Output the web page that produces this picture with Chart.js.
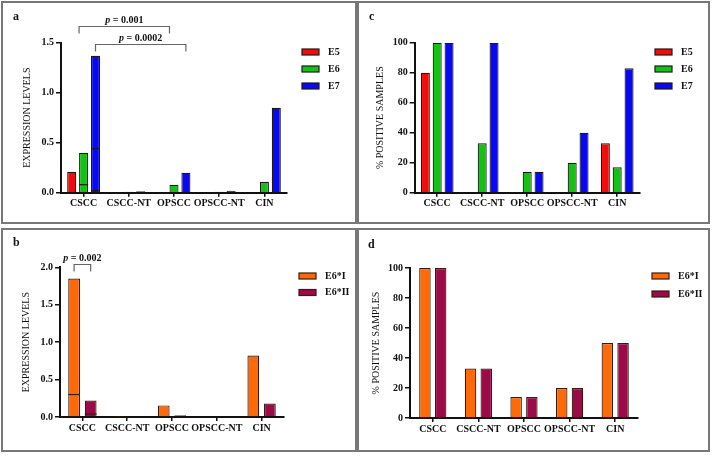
<!DOCTYPE html>
<html>
<head>
<meta charset="utf-8">
<script src="https://cdn.jsdelivr.net/npm/chart.js@4.4.1/dist/chart.umd.min.js"></script>
<style>
  body { margin: 0; background: #fff; }
  #page { position: relative; width: 714px; height: 456px; background: #fff; }
  .panel { position: absolute; }
  .frame { position: absolute; border: 2px solid #777; box-sizing: border-box; pointer-events: none; }
</style>
</head>
<body>
<div id="page">
  <div class="panel" id="pa" style="left:2px;top:2px;width:352px;height:221px"><canvas id="chartA"></canvas></div>
  <div class="panel" id="pc" style="left:357px;top:2px;width:350px;height:221px"><canvas id="chartC"></canvas></div>
  <div class="panel" id="pb" style="left:2px;top:229px;width:352px;height:221px"><canvas id="chartB"></canvas></div>
  <div class="panel" id="pd" style="left:357px;top:229px;width:350px;height:221px"><canvas id="chartD"></canvas></div>
  <div class="frame" style="left:1px;top:1px;width:356px;height:223px"></div>
  <div class="frame" style="left:357px;top:1px;width:353px;height:223px"></div>
  <div class="frame" style="left:1px;top:228px;width:356px;height:224px"></div>
  <div class="frame" style="left:357px;top:228px;width:353px;height:224px"></div>
</div>
<script>
const categories = ['CSCC', 'CSCC-NT', 'OPSCC', 'OPSCC-NT', 'CIN'];

// panel a - expression levels
const e5Expr = [0.21, 0, 0, 0, 0.008];
const e6Expr = [0.40, 0.01, 0.08, 0.01, 0.11];
const e7Expr = [1.37, 0.015, 0.20, 0.02, 0.85];
const e6ExprInner = [[0.08], [], [], [], []];
const e7ExprInner = [[0.44, 0.02], [], [], [], []];

// panel b - E6* expression levels
const e6iExpr = [1.85, 0.015, 0.155, 0.012, 0.82];
const e6iiExpr = [0.22, 0, 0.025, 0.008, 0.18];
const e6iExprInner = [[0.30], [], [], [], []];
const e6iiExprInner = [[0.04], [], [], [], []];

// panel c - % positive samples
const e5Pos = [80, 0, 0, 0, 33];
const e6Pos = [100, 33, 14, 20, 17];
const e7Pos = [100, 100, 14, 40, 83];

// panel d - % positive E6*
const e6iPos = [100, 33, 14, 20, 50];
const e6iiPos = [100, 33, 14, 20, 50];

const ticksExprA = [0, 0.5, 1.0, 1.5];
const ticksExprB = [0, 0.5, 1.0, 1.5, 2.0];
const ticksPos = [0, 20, 40, 60, 80, 100];

// significance brackets: [datasetIdx, catIdx] -> [datasetIdx, catIdx], level on y scale
const bracketsA = [
  { from: [1, 0], to: [1, 2], level: 1.665, label: '0.001', edge: true },
  { from: [2, 0], to: [2, 2], level: 1.492, label: '0.0002' }
];
const bracketsB = [
  { from: [0, 0], to: [1, 0], level: 2.05, label: '0.002' }
];

const RED = '#f50a0a', GREEN = '#12c312', BLUE = '#0808f5';
const ORANGE = '#ff6a08', CRIMSON = '#9c0a48';
const SERIF = '"Liberation Serif", "Times New Roman", serif';

Chart.defaults.font.family = SERIF;
Chart.defaults.color = '#111';
Chart.defaults.animation = false;

const innerLines = {
  id: 'innerLines',
  afterDatasetsDraw(chart) {
    const ctx = chart.ctx;
    const y = chart.scales.y;
    chart.data.datasets.forEach((ds, i) => {
      if (!ds.inner) return;
      const meta = chart.getDatasetMeta(i);
      ds.inner.forEach((vals, j) => {
        const bar = meta.data[j];
        vals.forEach(v => {
          const py = y.getPixelForValue(v);
          ctx.save();
          ctx.strokeStyle = ds.borderColor;
          ctx.lineWidth = 1.2;
          ctx.beginPath();
          ctx.moveTo(bar.x - bar.width / 2, py);
          ctx.lineTo(bar.x + bar.width / 2, py);
          ctx.stroke();
          ctx.restore();
        });
      });
    });
  }
};

const extras = {
  id: 'extras',
  afterDraw(chart, args, opts) {
    const ctx = chart.ctx;
    ctx.save();
    // panel letter
    ctx.fillStyle = '#111';
    ctx.font = 'bold 12px ' + SERIF;
    ctx.textAlign = 'left';
    ctx.textBaseline = 'alphabetic';
    ctx.fillText(opts.letter, opts.letterX, opts.letterY);

    // legend
    ctx.font = 'bold 10px ' + SERIF;
    ctx.textBaseline = 'middle';
    chart.data.datasets.forEach((ds, i) => {
      const yy = opts.legendY + i * opts.legendGap;
      ctx.fillStyle = ds.backgroundColor;
      ctx.fillRect(opts.legendX, yy - 3, 17, 6);
      ctx.strokeStyle = ds.borderColor;
      ctx.lineWidth = 1.2;
      ctx.strokeRect(opts.legendX, yy - 3, 17, 6);
      ctx.fillStyle = '#111';
      ctx.fillText(ds.label, opts.legendX + 26, yy);
    });

    // significance brackets
    const y = chart.scales.y;
    (opts.brackets || []).forEach(b => {
      const b1 = chart.getDatasetMeta(b.from[0]).data[b.from[1]];
      const b2 = chart.getDatasetMeta(b.to[0]).data[b.to[1]];
      const x1 = b.edge ? b1.x - b1.width / 2 : b1.x;
      const x2 = b.edge ? b2.x - b2.width / 2 : b2.x;
      const py = Math.round(y.getPixelForValue(b.level)) + 0.5;
      ctx.strokeStyle = '#666';
      ctx.lineWidth = 1.2;
      ctx.beginPath();
      ctx.moveTo(x1, py + 7);
      ctx.lineTo(x1, py);
      ctx.lineTo(x2, py);
      ctx.lineTo(x2, py + 7);
      ctx.stroke();
      // "p = value" text, italic p
      const mid = (x1 + x2) / 2;
      const pPart = 'p';
      const rest = ' = ' + b.label;
      ctx.font = 'italic bold 10px ' + SERIF;
      const w1 = ctx.measureText(pPart).width;
      ctx.font = 'bold 10px ' + SERIF;
      const w2 = ctx.measureText(rest).width;
      const sx = mid - (w1 + w2) / 2;
      ctx.fillStyle = '#111';
      ctx.textAlign = 'left';
      ctx.textBaseline = 'middle';
      ctx.font = 'italic bold 10px ' + SERIF;
      ctx.fillText(pPart, sx, py - 6);
      ctx.font = 'bold 10px ' + SERIF;
      ctx.fillText(rest, sx + w1, py - 6);
    });
    ctx.restore();
  }
};

function barDs(label, data, bg, border, cp, bp, inner) {
  const ds = {
    label: label,
    data: data,
    backgroundColor: bg,
    borderColor: border,
    borderWidth: 1.2,
    borderSkipped: 'bottom',
    categoryPercentage: cp,
    barPercentage: bp
  };
  if (inner) ds.inner = inner;
  return ds;
}

function makeChart(id, datasets, o) {
  return new Chart(document.getElementById(id), {
    type: 'bar',
    data: { labels: categories, datasets: datasets },
    options: {
      responsive: true,
      maintainAspectRatio: false,
      layout: { padding: { left: o.left - 40, right: o.width - o.right, top: o.top, bottom: o.height - o.bottom - 20 } },
      plugins: {
        legend: { display: false },
        tooltip: { enabled: false },
        extras: o.extras
      },
      scales: {
        x: {
          offset: true,
          afterFit: s => { s.height = 20; },
          grid: { drawOnChartArea: false, offset: false, drawTicks: true, tickLength: 4, color: '#111', lineWidth: 1.5 },
          border: { display: true, color: '#111', width: 2 },
          ticks: { font: { size: 10, weight: 'bold' }, color: '#111', padding: 1, maxRotation: 0, autoSkip: false }
        },
        y: {
          min: 0,
          max: o.max,
          afterFit: s => { s.width = 40; },
          afterBuildTicks: s => { s.ticks = o.ticks.map(v => ({ value: v })); },
          grid: { drawOnChartArea: false, drawTicks: true, tickLength: 5, color: '#111', lineWidth: 1.5 },
          border: { display: true, color: '#111', width: 2 },
          title: { display: true, text: o.title, font: { size: 10, weight: 'normal' }, color: '#111', padding: { top: 0, bottom: o.titlePad } },
          ticks: {
            font: { size: 10, weight: 'bold' }, color: '#111', padding: 2,
            callback: v => o.decimals ? Number(v).toFixed(1) : String(v)
          }
        }
      }
    },
    plugins: [innerLines, extras]
  });
}

makeChart('chartA', [
  barDs('E5', e5Expr, RED, '#1a1a1a', 0.79, 0.76),
  barDs('E6', e6Expr, GREEN, '#1a1a1a', 0.79, 0.76, e6ExprInner),
  barDs('E7', e7Expr, BLUE, '#1a1a1a', 0.79, 0.76, e7ExprInner)
], {
  left: 59, right: 285, top: 40.7, bottom: 190.7, width: 352, height: 221,
  max: 1.5, ticks: ticksExprA, decimals: true, title: 'EXPRESSION LEVELS', titlePad: 6,
  extras: { letter: 'a', letterX: 11, letterY: 18, legendX: 300, legendY: 50, legendGap: 17, brackets: bracketsA }
});

makeChart('chartC', [
  barDs('E5', e5Pos, RED, '#1a1a1a', 0.79, 0.76),
  barDs('E6', e6Pos, GREEN, '#1a1a1a', 0.79, 0.76),
  barDs('E7', e7Pos, BLUE, '#1a1a1a', 0.79, 0.76)
], {
  left: 57.7, right: 282.7, top: 40.7, bottom: 190.7, width: 350, height: 221,
  max: 100, ticks: ticksPos, decimals: false, title: '% POSITIVE SAMPLES', titlePad: 8,
  extras: { letter: 'c', letterX: 12, letterY: 18, legendX: 298, legendY: 50, legendGap: 17 }
});

makeChart('chartB', [
  barDs('E6*I', e6iExpr, ORANGE, '#3b1a10', 0.74, 0.71, e6iExprInner),
  barDs('E6*II', e6iiExpr, CRIMSON, '#3b1a10', 0.74, 0.71, e6iiExprInner)
], {
  left: 58, right: 282, top: 38.3, bottom: 188, width: 352, height: 221,
  max: 2.0, ticks: ticksExprB, decimals: true, title: 'EXPRESSION LEVELS', titlePad: 6,
  extras: { letter: 'b', letterX: 11, letterY: 17, legendX: 297, legendY: 47, legendGap: 16.5, brackets: bracketsB }
});

makeChart('chartD', [
  barDs('E6*I', e6iPos, ORANGE, '#3b1a10', 0.69, 0.73),
  barDs('E6*II', e6iiPos, CRIMSON, '#3b1a10', 0.69, 0.73)
], {
  left: 53, right: 281, top: 39, bottom: 189, width: 350, height: 221,
  max: 100, ticks: ticksPos, decimals: false, title: '% POSITIVE SAMPLES', titlePad: 4,
  extras: { letter: 'd', letterX: 11, letterY: 19, legendX: 295, legendY: 47, legendGap: 18 }
});
</script>
</body>
</html>
